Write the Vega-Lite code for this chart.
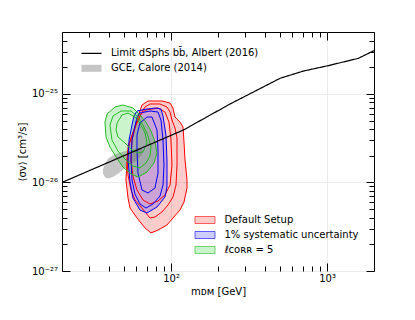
{
  "$schema": "https://vega.github.io/schema/vega-lite/v6.json",
  "width": 312,
  "height": 239,
  "autosize": {"type": "none"},
  "padding": {"left": 62, "top": 32, "right": 41, "bottom": 49},
  "config": {
    "font": "DejaVu Sans",
    "view": {"stroke": "#000", "strokeWidth": 1},
    "axis": {"domain": false, "grid": false, "labelFont": "DejaVu Sans", "labelFontSize": 10, "labelColor": "#000", "tickColor": "#000", "tickWidth": 1, "titleFont": "DejaVu Sans", "titleFontSize": 10, "titleFontWeight": "normal", "titleColor": "#000", "labelFlush": false, "labelOverlap": false},
    "legend": {"padding": 0, "labelFont": "DejaVu Sans", "labelFontSize": 10, "labelColor": "#000", "labelOffset": 14.4, "rowPadding": 5, "symbolSize": 49, "symbolType": "M-2.86,-1H2.86V1H-2.86Z"}
  },
  "datasets": {
    "contours": [
      {"s":"def","l":1,"i":0,"m":65.1,"v":7.49e-26},{"s":"def","l":1,"i":1,"m":71.2,"v":8.31e-26},{"s":"def","l":1,"i":2,"m":87.5,"v":8.31e-26},{"s":"def","l":1,"i":3,"m":98.5,"v":7.89e-26},{"s":"def","l":1,"i":4,"m":102.9,"v":6.93e-26},{"s":"def","l":1,"i":5,"m":106.0,"v":5.48e-26},{"s":"def","l":1,"i":6,"m":114.1,"v":4.81e-26},{"s":"def","l":1,"i":7,"m":119.3,"v":4.23e-26},{"s":"def","l":1,"i":8,"m":121.1,"v":2.86e-26},{"s":"def","l":1,"i":9,"m":122.9,"v":1.79e-26},{"s":"def","l":1,"i":10,"m":126.6,"v":1.07e-26},{"s":"def","l":1,"i":11,"m":126.6,"v":8.65e-27},{"s":"def","l":1,"i":12,"m":121.1,"v":6.01e-27},{"s":"def","l":1,"i":13,"m":114.1,"v":4.88e-27},{"s":"def","l":1,"i":14,"m":102.9,"v":3.97e-27},{"s":"def","l":1,"i":15,"m":94.2,"v":3.31e-27},{"s":"def","l":1,"i":16,"m":82.5,"v":2.90e-27},{"s":"def","l":1,"i":17,"m":74.4,"v":2.69e-27},{"s":"def","l":1,"i":18,"m":68.1,"v":3.06e-27},{"s":"def","l":1,"i":19,"m":60.5,"v":3.97e-27},{"s":"def","l":1,"i":20,"m":54.6,"v":5.14e-27},{"s":"def","l":1,"i":21,"m":53.0,"v":6.67e-27},{"s":"def","l":1,"i":22,"m":51.4,"v":1.07e-26},{"s":"def","l":1,"i":23,"m":52.2,"v":1.66e-26},{"s":"def","l":1,"i":24,"m":53.0,"v":2.51e-26},{"s":"def","l":1,"i":25,"m":57.0,"v":3.62e-26},{"s":"def","l":1,"i":26,"m":61.4,"v":5.48e-26},
      {"s":"def","l":2,"i":0,"m":68.1,"v":7.11e-26},{"s":"def","l":2,"i":1,"m":73.3,"v":7.69e-26},{"s":"def","l":2,"i":2,"m":85.0,"v":7.69e-26},{"s":"def","l":2,"i":3,"m":94.2,"v":7.11e-26},{"s":"def","l":2,"i":4,"m":98.5,"v":6.24e-26},{"s":"def","l":2,"i":5,"m":101.4,"v":5.07e-26},{"s":"def","l":2,"i":6,"m":106.0,"v":4.12e-26},{"s":"def","l":2,"i":7,"m":109.2,"v":3.18e-26},{"s":"def","l":2,"i":8,"m":109.2,"v":1.57e-26},{"s":"def","l":2,"i":9,"m":107.6,"v":9.35e-27},{"s":"def","l":2,"i":10,"m":102.9,"v":6.85e-27},{"s":"def","l":2,"i":11,"m":95.6,"v":5.56e-27},{"s":"def","l":2,"i":12,"m":87.5,"v":4.64e-27},{"s":"def","l":2,"i":13,"m":78.9,"v":4.07e-27},{"s":"def","l":2,"i":14,"m":73.3,"v":3.97e-27},{"s":"def","l":2,"i":15,"m":65.1,"v":5.14e-27},{"s":"def","l":2,"i":16,"m":58.7,"v":6.34e-27},{"s":"def","l":2,"i":17,"m":55.4,"v":8.22e-27},{"s":"def","l":2,"i":18,"m":53.0,"v":1.21e-26},{"s":"def","l":2,"i":19,"m":52.2,"v":1.79e-26},{"s":"def","l":2,"i":20,"m":53.8,"v":2.65e-26},{"s":"def","l":2,"i":21,"m":55.4,"v":3.18e-26},{"s":"def","l":2,"i":22,"m":58.7,"v":4.23e-26},{"s":"def","l":2,"i":23,"m":65.1,"v":6.24e-26},
      {"s":"def","l":3,"i":0,"m":69.1,"v":6.58e-26},{"s":"def","l":3,"i":1,"m":82.5,"v":6.93e-26},{"s":"def","l":3,"i":2,"m":91.5,"v":6.24e-26},{"s":"def","l":3,"i":3,"m":97.0,"v":4.81e-26},{"s":"def","l":3,"i":4,"m":99.9,"v":3.02e-26},{"s":"def","l":3,"i":5,"m":101.4,"v":1.57e-26},{"s":"def","l":3,"i":6,"m":98.5,"v":9.35e-27},{"s":"def","l":3,"i":7,"m":91.5,"v":7.22e-27},{"s":"def","l":3,"i":8,"m":82.5,"v":6.17e-27},{"s":"def","l":3,"i":9,"m":73.3,"v":5.71e-27},{"s":"def","l":3,"i":10,"m":66.1,"v":6.34e-27},{"s":"def","l":3,"i":11,"m":60.5,"v":8.22e-27},{"s":"def","l":3,"i":12,"m":57.0,"v":1.18e-26},{"s":"def","l":3,"i":13,"m":55.4,"v":1.79e-26},{"s":"def","l":3,"i":14,"m":56.2,"v":3.02e-26},{"s":"def","l":3,"i":15,"m":59.6,"v":4.45e-26},{"s":"def","l":3,"i":16,"m":64.2,"v":5.93e-26},
      {"s":"sys","l":1,"i":0,"m":60.5,"v":6.41e-26},{"s":"sys","l":1,"i":1,"m":70.1,"v":6.75e-26},{"s":"sys","l":1,"i":2,"m":80.1,"v":6.93e-26},{"s":"sys","l":1,"i":3,"m":86.2,"v":6.75e-26},{"s":"sys","l":1,"i":4,"m":88.8,"v":5.63e-26},{"s":"sys","l":1,"i":5,"m":92.8,"v":3.43e-26},{"s":"sys","l":1,"i":6,"m":94.2,"v":1.79e-26},{"s":"sys","l":1,"i":7,"m":94.2,"v":8.88e-27},{"s":"sys","l":1,"i":8,"m":91.5,"v":6.85e-27},{"s":"sys","l":1,"i":9,"m":81.3,"v":5.28e-27},{"s":"sys","l":1,"i":10,"m":70.1,"v":4.52e-27},{"s":"sys","l":1,"i":11,"m":63.2,"v":4.88e-27},{"s":"sys","l":1,"i":12,"m":57.0,"v":6.67e-27},{"s":"sys","l":1,"i":13,"m":54.6,"v":1.01e-26},{"s":"sys","l":1,"i":14,"m":53.0,"v":1.79e-26},{"s":"sys","l":1,"i":15,"m":53.8,"v":3.02e-26},{"s":"sys","l":1,"i":16,"m":56.2,"v":4.45e-26},{"s":"sys","l":1,"i":17,"m":57.9,"v":5.63e-26},
      {"s":"sys","l":2,"i":0,"m":63.2,"v":6.08e-26},{"s":"sys","l":2,"i":1,"m":73.3,"v":6.41e-26},{"s":"sys","l":2,"i":2,"m":82.5,"v":6.24e-26},{"s":"sys","l":2,"i":3,"m":86.2,"v":5.07e-26},{"s":"sys","l":2,"i":4,"m":88.8,"v":3.02e-26},{"s":"sys","l":2,"i":5,"m":90.1,"v":1.57e-26},{"s":"sys","l":2,"i":6,"m":88.8,"v":9.35e-27},{"s":"sys","l":2,"i":7,"m":85.0,"v":7.03e-27},{"s":"sys","l":2,"i":8,"m":76.6,"v":5.71e-27},{"s":"sys","l":2,"i":9,"m":69.1,"v":5.14e-27},{"s":"sys","l":2,"i":10,"m":63.2,"v":5.71e-27},{"s":"sys","l":2,"i":11,"m":58.7,"v":7.40e-27},{"s":"sys","l":2,"i":12,"m":56.2,"v":1.07e-26},{"s":"sys","l":2,"i":13,"m":55.4,"v":1.79e-26},{"s":"sys","l":2,"i":14,"m":56.2,"v":3.02e-26},{"s":"sys","l":2,"i":15,"m":58.7,"v":4.34e-26},{"s":"sys","l":2,"i":16,"m":60.5,"v":5.48e-26},
      {"s":"sys","l":3,"i":0,"m":63.2,"v":4.69e-26},{"s":"sys","l":3,"i":1,"m":70.1,"v":5.48e-26},{"s":"sys","l":3,"i":2,"m":75.5,"v":5.48e-26},{"s":"sys","l":3,"i":3,"m":81.3,"v":3.91e-26},{"s":"sys","l":3,"i":4,"m":82.5,"v":2.32e-26},{"s":"sys","l":3,"i":5,"m":82.5,"v":1.28e-26},{"s":"sys","l":3,"i":6,"m":78.9,"v":8.65e-27},{"s":"sys","l":3,"i":7,"m":71.2,"v":7.60e-27},{"s":"sys","l":3,"i":8,"m":65.1,"v":8.22e-27},{"s":"sys","l":3,"i":9,"m":61.4,"v":1.28e-26},{"s":"sys","l":3,"i":10,"m":60.5,"v":2.32e-26},{"s":"sys","l":3,"i":11,"m":60.5,"v":3.43e-26},
      {"s":"corr","l":1,"i":0,"m":37.7,"v":4.81e-26},{"s":"corr","l":1,"i":1,"m":38.9,"v":5.93e-26},{"s":"corr","l":1,"i":2,"m":43.7,"v":7.11e-26},{"s":"corr","l":1,"i":3,"m":49.2,"v":7.49e-26},{"s":"corr","l":1,"i":4,"m":57.0,"v":6.93e-26},{"s":"corr","l":1,"i":5,"m":62.3,"v":5.93e-26},{"s":"corr","l":1,"i":6,"m":69.1,"v":4.81e-26},{"s":"corr","l":1,"i":7,"m":74.4,"v":3.81e-26},{"s":"corr","l":1,"i":8,"m":78.9,"v":2.86e-26},{"s":"corr","l":1,"i":9,"m":81.3,"v":2.15e-26},{"s":"corr","l":1,"i":10,"m":77.8,"v":1.66e-26},{"s":"corr","l":1,"i":11,"m":70.1,"v":1.31e-26},{"s":"corr","l":1,"i":12,"m":61.4,"v":1.15e-26},{"s":"corr","l":1,"i":13,"m":55.4,"v":1.25e-26},{"s":"corr","l":1,"i":14,"m":49.2,"v":1.49e-26},{"s":"corr","l":1,"i":15,"m":44.4,"v":1.94e-26},{"s":"corr","l":1,"i":16,"m":40.6,"v":2.51e-26},{"s":"corr","l":1,"i":17,"m":38.3,"v":3.26e-26},
      {"s":"corr","l":2,"i":0,"m":40.6,"v":4.45e-26},{"s":"corr","l":2,"i":1,"m":42.5,"v":5.63e-26},{"s":"corr","l":2,"i":2,"m":47.8,"v":6.41e-26},{"s":"corr","l":2,"i":3,"m":55.4,"v":6.41e-26},{"s":"corr","l":2,"i":4,"m":60.5,"v":5.63e-26},{"s":"corr","l":2,"i":5,"m":66.1,"v":4.45e-26},{"s":"corr","l":2,"i":6,"m":71.2,"v":3.34e-26},{"s":"corr","l":2,"i":7,"m":74.4,"v":2.51e-26},{"s":"corr","l":2,"i":8,"m":73.3,"v":1.99e-26},{"s":"corr","l":2,"i":9,"m":69.1,"v":1.66e-26},{"s":"corr","l":2,"i":10,"m":63.2,"v":1.46e-26},{"s":"corr","l":2,"i":11,"m":57.0,"v":1.53e-26},{"s":"corr","l":2,"i":12,"m":51.4,"v":1.79e-26},{"s":"corr","l":2,"i":13,"m":45.7,"v":2.26e-26},{"s":"corr","l":2,"i":14,"m":41.8,"v":3.02e-26},
      {"s":"corr","l":3,"i":0,"m":45.1,"v":4.69e-26},{"s":"corr","l":3,"i":1,"m":48.5,"v":5.78e-26},{"s":"corr","l":3,"i":2,"m":53.0,"v":6.08e-26},{"s":"corr","l":3,"i":3,"m":58.7,"v":5.48e-26},{"s":"corr","l":3,"i":4,"m":63.2,"v":4.69e-26},{"s":"corr","l":3,"i":5,"m":68.1,"v":3.62e-26},{"s":"corr","l":3,"i":6,"m":70.1,"v":2.79e-26},{"s":"corr","l":3,"i":7,"m":66.1,"v":2.21e-26},{"s":"corr","l":3,"i":8,"m":61.4,"v":2.15e-26},{"s":"corr","l":3,"i":9,"m":56.2,"v":2.32e-26},{"s":"corr","l":3,"i":10,"m":50.7,"v":2.79e-26},{"s":"corr","l":3,"i":11,"m":45.7,"v":3.26e-26},{"s":"corr","l":3,"i":12,"m":44.4,"v":3.91e-26}
    ],
    "gce": [
      {"g":"GCE, Calore (2014)","i":0,"m":37.2,"v":1.53e-26},{"g":"GCE, Calore (2014)","i":1,"m":40.0,"v":1.89e-26},{"g":"GCE, Calore (2014)","i":2,"m":46.4,"v":2.15e-26},{"g":"GCE, Calore (2014)","i":3,"m":55.4,"v":2.32e-26},{"g":"GCE, Calore (2014)","i":4,"m":63.2,"v":2.45e-26},{"g":"GCE, Calore (2014)","i":5,"m":66.1,"v":2.21e-26},{"g":"GCE, Calore (2014)","i":6,"m":61.4,"v":1.84e-26},{"g":"GCE, Calore (2014)","i":7,"m":53.0,"v":1.53e-26},{"g":"GCE, Calore (2014)","i":8,"m":45.7,"v":1.25e-26},{"g":"GCE, Calore (2014)","i":9,"m":40.6,"v":1.12e-26},{"g":"GCE, Calore (2014)","i":10,"m":37.7,"v":1.15e-26},{"g":"GCE, Calore (2014)","i":11,"m":36.6,"v":1.31e-26}
    ],
    "limit": [
      {"lbl":"Limit dSphs bb̄, Albert (2016)","m":20,"v":1.0e-26},{"lbl":"Limit dSphs bb̄, Albert (2016)","m":120,"v":3.91e-26},{"lbl":"Limit dSphs bb̄, Albert (2016)","m":239,"v":7.69e-26},{"lbl":"Limit dSphs bb̄, Albert (2016)","m":500,"v":1.50e-25},{"lbl":"Limit dSphs bb̄, Albert (2016)","m":704,"v":1.81e-25},{"lbl":"Limit dSphs bb̄, Albert (2016)","m":1000,"v":2.07e-25},{"lbl":"Limit dSphs bb̄, Albert (2016)","m":1586,"v":2.52e-25},{"lbl":"Limit dSphs bb̄, Albert (2016)","m":2000,"v":3.08e-25}
    ]
  },
  "resolve": {"axis": {"x": "independent", "y": "independent"}},
  "layer": [
    {
      "data": {"name": "contours"},
      "transform": [{"filter": "datum.l == 1"}],
      "mark": {"type": "line", "interpolate": "linear-closed", "strokeWidth": 0},
      "encoding": {
        "x": {"field": "m", "type": "quantitative", "scale": {"type": "log", "domain": [20, 2000], "nice": false},
          "axis": {"orient": "bottom", "values": [100, 1000], "labelExpr": "datum.value < 500 ? '10²' : '10³'", "tickSize": -8, "labelPadding": 10, "grid": true, "gridColor": "#ebebeb", "title": "mᴅᴍ [GeV]", "titlePadding": 3}},
        "y": {"field": "v", "type": "quantitative", "scale": {"type": "log", "domain": [1e-27, 5e-25], "nice": false},
          "axis": {"orient": "left", "values": [1e-27, 1e-26, 1e-25], "labelExpr": "datum.value < 5e-27 ? '10⁻²⁷' : datum.value < 5e-26 ? '10⁻²⁶' : '10⁻²⁵'", "tickSize": -8, "labelPadding": 12.5, "grid": true, "gridColor": "#ebebeb", "title": "⟨σv⟩ [cm³/s]", "titlePadding": 4}},
        "fill": {"field": "s", "type": "nominal",
          "scale": {"domain": ["def", "sys", "corr"], "range": ["rgba(255,0,0,0.2)", "rgba(0,0,255,0.2)", "rgba(0,200,0,0.2)"]},
          "legend": {"title": null, "orient": "none", "legendX": 138, "legendY": 183, "symbolStrokeWidth": 0.6, "labelExpr": "datum.value == 'def' ? 'Default Setup' : datum.value == 'sys' ? '1% systematic uncertainty' : 'ℓᴄᴏʀʀ = 5'"}},
        "order": {"field": "i", "type": "quantitative"}
      }
    },
    {
      "data": {"name": "gce"},
      "mark": {"type": "line", "interpolate": "cardinal-closed", "filled": true, "strokeWidth": 0},
      "encoding": {
        "x": {"field": "m", "type": "quantitative", "scale": {"type": "log", "domain": [20, 2000], "nice": false},
          "axis": {"orient": "bottom", "values": [20, 30, 40, 50, 60, 70, 80, 90, 200, 300, 400, 500, 600, 700, 800, 900, 2000], "labels": false, "tickSize": -5, "title": null}},
        "y": {"field": "v", "type": "quantitative", "scale": {"type": "log", "domain": [1e-27, 5e-25], "nice": false},
          "axis": {"orient": "left", "values": [2e-27, 3e-27, 4e-27, 5e-27, 6e-27, 7e-27, 8e-27, 9e-27, 2e-26, 3e-26, 4e-26, 5e-26, 6e-26, 7e-26, 8e-26, 9e-26, 2e-25, 3e-25, 4e-25], "labels": false, "tickSize": -5, "title": null}},
        "color": {"field": "g", "type": "nominal",
          "scale": {"domain": ["GCE, Calore (2014)"], "range": ["rgba(110,110,110,0.4)"]},
          "legend": {"title": null, "orient": "none", "legendX": 24.5, "legendY": 31.3}},
        "order": {"field": "i", "type": "quantitative"}
      }
    },
    {
      "data": {"name": "contours"},
      "mark": {"type": "line", "interpolate": "linear-closed", "strokeWidth": 1},
      "encoding": {
        "x": {"field": "m", "type": "quantitative", "scale": {"type": "log", "domain": [20, 2000], "nice": false},
          "axis": {"orient": "top", "values": [100, 1000], "labels": false, "tickSize": -8, "title": null}},
        "y": {"field": "v", "type": "quantitative", "scale": {"type": "log", "domain": [1e-27, 5e-25], "nice": false},
          "axis": {"orient": "right", "values": [1e-27, 1e-26, 1e-25], "labels": false, "tickSize": -8, "title": null}},
        "stroke": {"field": "s", "type": "nominal",
          "scale": {"domain": ["def", "sys", "corr"], "range": ["#ff0000", "#0000ff", "#22bb22"]},
          "legend": {"title": null, "orient": "none", "legendX": 138, "legendY": 183, "symbolStrokeWidth": 0.6, "labelExpr": "datum.value == 'def' ? 'Default Setup' : datum.value == 'sys' ? '1% systematic uncertainty' : 'ℓᴄᴏʀʀ = 5'"}},
        "detail": {"field": "l", "type": "nominal"},
        "order": {"field": "i", "type": "quantitative"}
      }
    },
    {
      "data": {"name": "limit"},
      "mark": {"type": "line", "color": "#000", "strokeWidth": 1.2},
      "encoding": {
        "x": {"field": "m", "type": "quantitative", "scale": {"type": "log", "domain": [20, 2000], "nice": false},
          "axis": {"orient": "top", "values": [20, 30, 40, 50, 60, 70, 80, 90, 200, 300, 400, 500, 600, 700, 800, 900, 2000], "labels": false, "tickSize": -5, "title": null}},
        "y": {"field": "v", "type": "quantitative", "scale": {"type": "log", "domain": [1e-27, 5e-25], "nice": false},
          "axis": {"orient": "right", "values": [2e-27, 3e-27, 4e-27, 5e-27, 6e-27, 7e-27, 8e-27, 9e-27, 2e-26, 3e-26, 4e-26, 5e-26, 6e-26, 7e-26, 8e-26, 9e-26, 2e-25, 3e-25, 4e-25], "labels": false, "tickSize": -5, "title": null}},
        "strokeDash": {"field": "lbl", "type": "nominal",
          "scale": {"domain": ["Limit dSphs bb̄, Albert (2016)"], "range": [[1, 0]]},
          "legend": {"title": null, "orient": "none", "legendX": 24.5, "legendY": 16.3, "symbolType": "M-2.86,0H2.86", "symbolStrokeColor": "#000", "symbolStrokeWidth": 1.2}}
      }
    }
  ]
}
